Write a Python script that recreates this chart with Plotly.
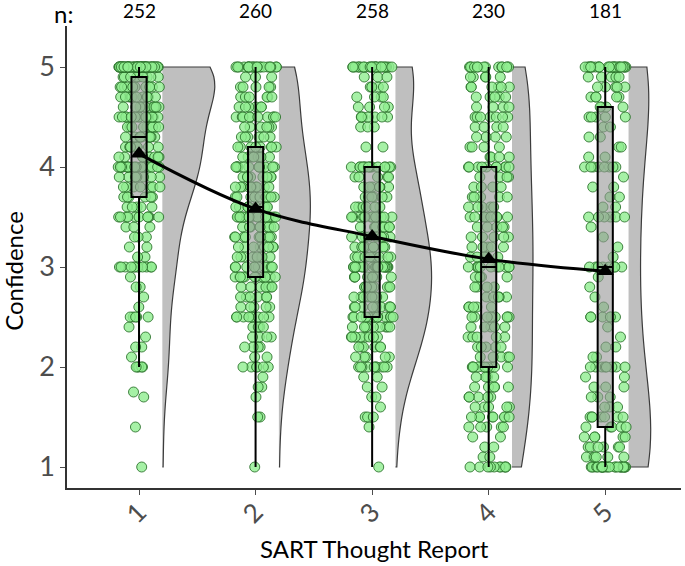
import numpy as np
import plotly.graph_objects as go

categories = [1, 2, 3, 4, 5]
x_title = "SART Thought Report"
y_title = "Confidence"
y_ticks = [1, 2, 3, 4, 5]

g1_levels = [5.0, 4.9, 4.8, 4.7, 4.6, 4.5, 4.4, 4.3, 4.2, 4.1, 4.0, 3.9, 3.8, 3.7, 3.6, 3.5, 3.4, 3.3, 3.2, 3.1,
             3.0, 2.9, 2.8, 2.7, 2.6, 2.5, 2.4, 2.3, 2.2, 2.1, 2.0, 1.75, 1.7, 1.4, 1.0]
g1_counts = [60, 9, 10, 10, 10, 16, 9, 9, 9, 8, 21, 7, 7, 6, 5, 10, 3, 3, 2, 2,
             12, 1, 2, 1, 1, 5, 1, 1, 2, 1, 5, 1, 1, 1, 1]

g2_levels = [5.0, 4.9, 4.8, 4.7, 4.6, 4.5, 4.4, 4.3, 4.2, 4.1, 4.0, 3.9, 3.8, 3.7, 3.6, 3.5, 3.4, 3.3, 3.2, 3.1,
             3.0, 2.9, 2.8, 2.7, 2.6, 2.5, 2.4, 2.3, 2.2, 2.1, 2.0, 1.9, 1.8, 1.7, 1.5, 1.0]
g2_counts = [22, 3, 5, 6, 6, 10, 6, 6, 8, 8, 14, 9, 10, 10, 10, 16, 9, 9, 8, 8,
             11, 12, 7, 6, 5, 9, 4, 4, 4, 2, 6, 1, 2, 1, 2, 1]

g3_levels = [5.0, 4.9, 4.8, 4.7, 4.6, 4.5, 4.4, 4.2, 4.0, 3.9, 3.8, 3.7, 3.6, 3.5, 3.4, 3.3, 3.2, 3.1,
             3.0, 2.9, 2.8, 2.7, 2.6, 2.5, 2.4, 2.3, 2.2, 2.1, 2.0, 1.9, 1.8, 1.7, 1.6, 1.5, 1.4, 1.0]
g3_counts = [26, 3, 4, 4, 4, 7, 3, 2, 16, 5, 6, 6, 6, 12, 8, 8, 8, 10,
             19, 9, 9, 9, 9, 14, 9, 9, 6, 5, 10, 2, 2, 2, 1, 3, 1, 1]

g4_levels = [5.0, 4.9, 4.8, 4.7, 4.6, 4.5, 4.4, 4.3, 4.2, 4.1, 4.0, 3.9, 3.8, 3.7, 3.6, 3.5, 3.4, 3.3, 3.2, 3.1,
             3.0, 2.9, 2.8, 2.7, 2.6, 2.5, 2.4, 2.3, 2.2, 2.1, 2.0, 1.9, 1.8, 1.7, 1.6, 1.5, 1.4, 1.3, 1.2, 1.1, 1.0]
g4_counts = [14, 5, 6, 5, 4, 7, 4, 4, 4, 4, 10, 4, 4, 5, 5, 9, 5, 5, 5, 5,
             12, 4, 4, 5, 5, 8, 5, 5, 5, 5, 10, 4, 5, 5, 5, 8, 5, 2, 2, 2, 10]

g5_levels = [5.0, 4.9, 4.8, 4.7, 4.6, 4.5, 4.4, 4.3, 4.2, 4.1, 4.0, 3.9, 3.8, 3.7, 3.6, 3.5, 3.4, 3.3, 3.2, 3.1,
             3.0, 2.9, 2.8, 2.7, 2.6, 2.5, 2.4, 2.3, 2.2, 2.1, 2.0, 1.9, 1.8, 1.7, 1.6, 1.5, 1.4, 1.3, 1.2, 1.1, 1.0]
g5_counts = [27, 5, 5, 5, 4, 5, 2, 2, 2, 2, 8, 1, 2, 2, 2, 6, 1, 1, 1, 1,
             8, 1, 1, 1, 1, 6, 1, 1, 2, 2, 8, 2, 3, 3, 3, 7, 5, 5, 6, 6, 25]

levels = [g1_levels, g2_levels, g3_levels, g4_levels, g5_levels]
counts = [g1_counts, g2_counts, g3_counts, g4_counts, g5_counts]

# styling
violin_widths = [0.9, 0.54, 0.62, 0.36, 0.38]   # plotly half-violin spans width/2
violin_offset = 0.2
font_family = "Lato, 'Open Sans', sans-serif"
tick_col = "rgb(77,77,77)"

groups = [np.repeat(lv, ct) for lv, ct in zip(levels, counts)]
all_y = np.concatenate(groups)
all_x = np.concatenate([np.full(len(g), c, dtype=float) for g, c in zip(groups, categories)])
means = [float(np.mean(g)) for g in groups]
ns = [len(g) for g in groups]

fig = go.Figure()

# half violins
for g, c, w in zip(groups, categories, violin_widths):
    fig.add_trace(go.Violin(
        x=np.full(len(g), c + violin_offset), y=g, side="positive", width=w,
        spanmode="hard", points=False, fillcolor="rgb(191,191,191)",
        line=dict(color="rgb(60,60,60)", width=1.2), opacity=1,
        box_visible=False, meanline_visible=False, hoverinfo="skip", showlegend=False,
    ))

# jittered raw points (box hidden)
fig.add_trace(go.Box(
    x=all_x, y=all_y, width=0.36, boxpoints="all", jitter=1, pointpos=0,
    fillcolor="rgba(0,0,0,0)", line=dict(color="rgba(0,0,0,0)", width=0),
    marker=dict(size=10, color="rgba(144,238,144,0.8)",
                line=dict(color="rgba(40,110,40,0.85)", width=1)),
    hoverinfo="skip", showlegend=False,
))

# boxplots (Tukey whiskers; outlier markers hidden since raw points are shown)
fig.add_trace(go.Box(
    x=all_x, y=all_y, width=0.13, boxpoints="outliers", whiskerwidth=0,
    marker=dict(size=1, opacity=0), pointpos=0,
    fillcolor="rgba(150,150,150,0.6)", line=dict(color="black", width=2),
    hoverinfo="skip", showlegend=False,
))

# mean line + triangles
fig.add_trace(go.Scatter(
    x=categories, y=means, mode="lines+markers", line=dict(color="black", width=3, shape="spline"),
    marker=dict(symbol="triangle-up", size=15, color="black"), showlegend=False, hoverinfo="skip",
))

annotations = [dict(x=c, y=1.0325, xref="x", yref="paper", text=str(n), showarrow=False,
                    font=dict(size=19, color="black", family=font_family), yanchor="middle")
               for c, n in zip(categories, ns)]
annotations.append(dict(x=-0.0244, y=1.026, xref="paper", yref="paper", text="n:", showarrow=False,
                        font=dict(size=24, color="black", family=font_family), yanchor="middle"))
# axis titles
annotations.append(dict(x=-0.0863, y=0.47, xref="paper", yref="paper", text=y_title, textangle=-90,
                        showarrow=False, xanchor="center", yanchor="middle",
                        font=dict(size=24, color="black", family=font_family)))
annotations.append(dict(x=0.5, y=-0.132, xref="paper", yref="paper", text=x_title,
                        showarrow=False, xanchor="center", yanchor="middle",
                        font=dict(size=24, color="black", family=font_family)))

fig.update_layout(
    width=685, height=566, plot_bgcolor="white", paper_bgcolor="white",
    margin=dict(l=67, r=4, t=26, b=78),
    boxmode="overlay", violinmode="overlay",
    font=dict(family=font_family, color="black"),
    annotations=annotations,
    xaxis=dict(range=[0.382, 5.65], tickvals=categories, ticktext=[str(c) for c in categories],
               tickangle=-45, tickfont=dict(size=26, color=tick_col), ticklabelstandoff=-8,
               showline=True, linecolor="rgb(50,50,50)", linewidth=1.5,
               ticks="outside", ticklen=5, tickcolor=tick_col, showgrid=False, zeroline=False,
               automargin=False),
    yaxis=dict(range=[0.79, 5.41], tickvals=y_ticks, ticktext=[str(t) for t in y_ticks],
               tickfont=dict(size=27, color=tick_col),
               showline=True, linecolor="rgb(50,50,50)", linewidth=1.5,
               ticks="outside", ticklen=5, tickcolor=tick_col, showgrid=False, zeroline=False,
               automargin=False),
)

fig.write_html("out.html", config={"displayModeBar": False},
               post_script="document.body.style.margin='0px';")
